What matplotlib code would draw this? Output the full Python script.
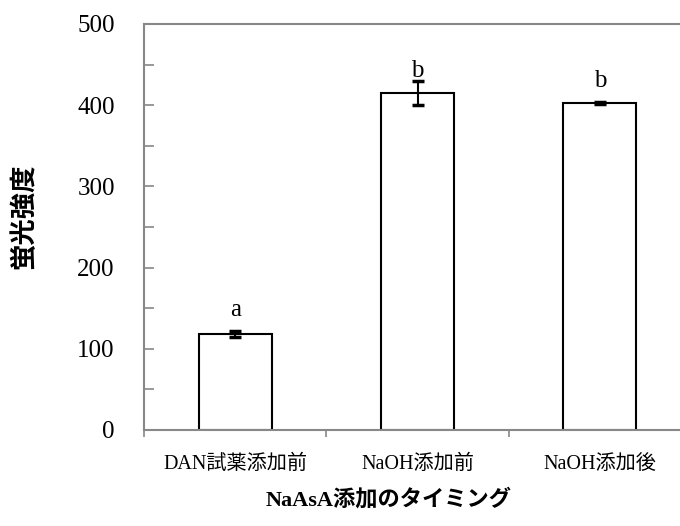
import matplotlib
matplotlib.use("Agg")
import matplotlib.pyplot as plt
from matplotlib.ticker import MultipleLocator, FixedLocator

# data
categories = ["DAN試薬添加前", "NaOH添加前", "NaOH添加後"]
values = [118, 415, 403]
errors = [4, 15, 1.5]
letters = ["a", "b", "b"]
letter_y = [140, 435, 422]   # baseline height of the significance letters

serif = ["Liberation Serif", "Noto Sans CJK JP"]
plt.rcParams["font.family"] = serif

fig = plt.figure(figsize=(6.8, 5.26), dpi=100)
ax = fig.add_axes([144 / 680, 1 - 430 / 526, 547 / 680, 406 / 526])

x = range(len(categories))
ax.bar(x, values, width=0.4, color="white", edgecolor="black", linewidth=1.5, zorder=2)
ax.errorbar(x, values, yerr=errors, fmt="none", ecolor="black", elinewidth=1.5,
            capsize=4.3, capthick=2.5, zorder=3)

for xi, ly, lab in zip(x, letter_y, letters):
    ax.text(xi, ly, lab, ha="center", va="baseline", fontsize=18, family=serif)

ax.set_xlim(-0.5, 2.5)
ax.set_ylim(0, 500)

ax.yaxis.set_major_locator(MultipleLocator(100))
ax.yaxis.set_minor_locator(MultipleLocator(50))
ax.tick_params(axis="y", which="both", direction="in", length=7, width=1.2,
               color="#888888", labelsize=18, pad=21)

ax.set_xticks(list(x))
ax.set_xticklabels(categories, fontsize=14.5)
ax.xaxis.set_minor_locator(FixedLocator([-0.5, 0.5, 1.5, 2.5]))
ax.tick_params(axis="x", which="major", length=0, pad=18)
ax.tick_params(axis="x", which="minor", direction="out", length=5, width=1.2, color="#888888")

for side in ["left", "bottom", "top", "right"]:
    ax.spines[side].set_color("#888888")
    ax.spines[side].set_linewidth(1.5)

fig.text(389 / 680, 1 - 500 / 526, "NaAsA添加のタイミング", ha="center", va="center",
         fontsize=16, fontweight="bold", family=serif)
fig.text(24 / 680, 1 - 216 / 526, "蛍光強度", ha="center", va="center", rotation=90,
         fontsize=19, fontweight="bold", family=["Noto Sans CJK JP", "DejaVu Sans"])

fig.savefig("out.png", dpi=100)
